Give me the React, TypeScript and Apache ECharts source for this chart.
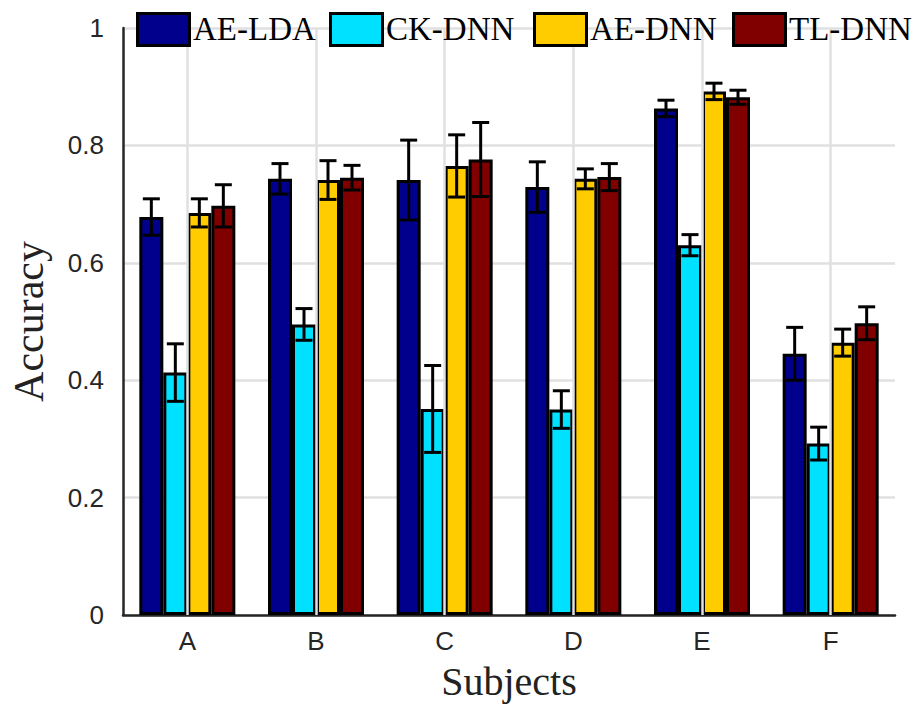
import React, { useEffect, useRef } from "react";
import * as echarts from "echarts";

const categories = ["A", "B", "C", "D", "E", "F"];
const seriesNames = ["AE-LDA", "CK-DNN", "AE-DNN", "TL-DNN"];
const colors = ["#00008C", "#00E0FF", "#FFCC00", "#800000"];

const aeLda = [0.678, 0.743, 0.741, 0.729, 0.863, 0.445];
const ckDnn = [0.413, 0.495, 0.351, 0.35, 0.63, 0.292];
const aeDnn = [0.685, 0.741, 0.765, 0.743, 0.892, 0.464];
const tlDnn = [0.697, 0.745, 0.776, 0.746, 0.882, 0.497];

const aeLdaErr = [0.031, 0.026, 0.068, 0.043, 0.014, 0.045];
const ckDnnErr = [0.049, 0.027, 0.074, 0.032, 0.018, 0.028];
const aeDnnErr = [0.024, 0.033, 0.053, 0.017, 0.014, 0.023];
const tlDnnErr = [0.036, 0.021, 0.063, 0.023, 0.012, 0.028];

const yTicks = [0, 0.2, 0.4, 0.6, 0.8, 1];

const values = [aeLda, ckDnn, aeDnn, tlDnn];
const errors = [aeLdaErr, ckDnnErr, aeDnnErr, tlDnnErr];

const BAR_W = 24;
const LEGEND_X = [136, 329, 533, 732];

export default function App() {
  const ref = useRef<HTMLDivElement>(null);
  useEffect(() => {
    if (!ref.current) return;
    const chart = echarts.init(ref.current, undefined, { renderer: "svg" });

    const errData: number[][] = [];
    values.forEach((vals, s) => {
      vals.forEach((v, c) => {
        errData.push([c, s, v - errors[s][c], v + errors[s][c]]);
      });
    });

    const barSeries = seriesNames.map((name, s) => ({
      name,
      type: "bar",
      data: values[s],
      barWidth: BAR_W,
      barGap: "0%",
      z: 2,
      itemStyle: { color: colors[s], borderColor: "#000", borderWidth: 3 },
    }));

    const legendGraphics: any[] = [];
    seriesNames.forEach((name, s) => {
      legendGraphics.push({
        type: "rect",
        left: LEGEND_X[s],
        top: 12,
        shape: { width: 52, height: 32 },
        style: { fill: colors[s], stroke: "#000", lineWidth: 3 },
        z: 100,
      });
      legendGraphics.push({
        type: "text",
        left: LEGEND_X[s] + 57,
        top: 12,
        style: {
          text: name,
          fontFamily: "Liberation Serif",
          fontSize: 33,
          fill: "#000",
        },
        z: 100,
      });
    });

    const option: any = {
      animation: false,
      backgroundColor: "#fff",
      grid: { left: 122, right: 22, top: 28, bottom: 87 },
      graphic: legendGraphics,
      xAxis: {
        type: "category",
        data: categories,
        name: "Subjects",
        nameLocation: "middle",
        nameGap: 46,
        nameTextStyle: { fontFamily: "Liberation Serif", fontSize: 40, color: "#222" },
        axisLine: { lineStyle: { color: "#262626", width: 2.5 } },
        axisTick: { show: false },
        axisLabel: { fontFamily: "Liberation Sans", fontSize: 26, color: "#262626", margin: 13 },
        splitLine: { show: false },
      },
      yAxis: {
        type: "value",
        min: 0,
        max: 1,
        interval: 0.2,
        name: "Accuracy",
        nameLocation: "middle",
        nameGap: 73,
        nameTextStyle: { fontFamily: "Liberation Serif", fontSize: 42, color: "#222" },
        axisLine: { show: true, lineStyle: { color: "#262626", width: 2.5 } },
        axisTick: { show: false },
        axisLabel: {
          fontFamily: "Liberation Sans",
          fontSize: 26,
          color: "#262626",
          margin: 19,
          formatter: (v: number) => {
            const t = yTicks.find((x) => Math.abs(x - v) < 1e-9);
            return t === undefined ? "" : String(t);
          },
        },
        splitLine: { show: true, lineStyle: { color: "#E0E0E0", width: 2.5 } },
      },
      series: [
        {
          name: "vgrid",
          type: "line",
          data: categories.map(() => null),
          z: 1,
          silent: true,
          symbol: "none",
          markLine: {
            silent: true,
            symbol: ["none", "none"],
            label: { show: false },
            lineStyle: { color: "#E0E0E0", width: 2.5, type: "solid" },
            data: categories.map((c) => ({ xAxis: c })),
          },
        },
        ...barSeries,
        {
          name: "errors",
          type: "custom",
          z: 5,
          silent: true,
          data: errData,
          encode: { x: 0, y: [2, 3] },
          renderItem: (params: any, api: any) => {
            const c = api.value(0);
            const s = api.value(1);
            const lo = api.value(2);
            const hi = api.value(3);
            const pLo = api.coord([c, lo]);
            const pHi = api.coord([c, hi]);
            const x = pLo[0] + (s - 1.5) * BAR_W;
            const cap = 8.5;
            const style = { stroke: "#000", lineWidth: 3 };
            return {
              type: "group",
              children: [
                { type: "line", shape: { x1: x, y1: pLo[1], x2: x, y2: pHi[1] }, style },
                { type: "line", shape: { x1: x - cap, y1: pLo[1], x2: x + cap, y2: pLo[1] }, style },
                { type: "line", shape: { x1: x - cap, y1: pHi[1], x2: x + cap, y2: pHi[1] }, style },
              ],
            };
          },
        },
      ],
    };
    chart.setOption(option);
    return () => chart.dispose();
  }, []);
  return (
    <div
      ref={ref}
      style={{ position: "fixed", left: 0, top: 0, width: 917, height: 706 }}
    />
  );
}
